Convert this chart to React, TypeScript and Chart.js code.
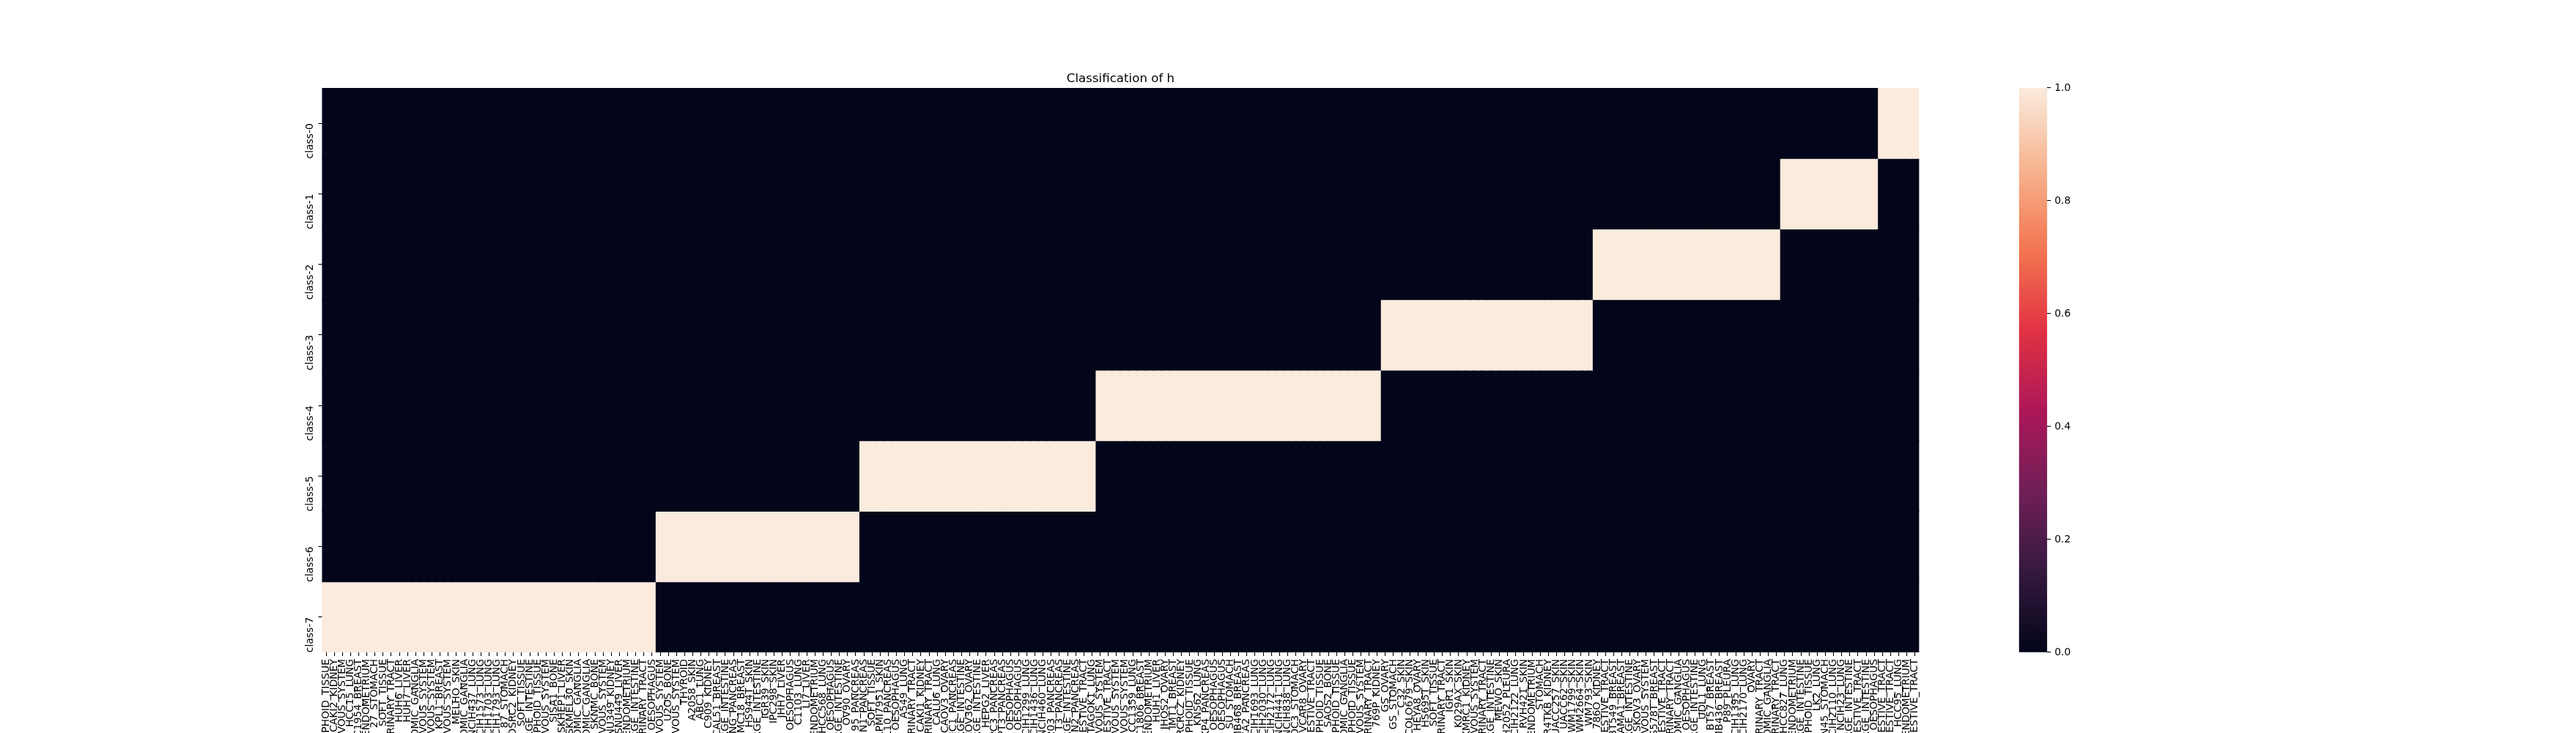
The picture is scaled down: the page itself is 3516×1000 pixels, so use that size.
import React, { useEffect, useRef } from 'react';
import { Chart, registerables } from 'chart.js';

Chart.register(...registerables);

const chartTitle = 'Classification of h';

const classes = ['class-0', 'class-1', 'class-2', 'class-3', 'class-4', 'class-5', 'class-6', 'class-7'];

const xLabels = [
  'HAEMATOPOIETIC_AND_LYMPHOID_TISSUE', 'CAKI2_KIDNEY', 'CENTRAL_NERVOUS_SYSTEM', 'HCC15_LUNG', 'HCC1954_BREAST', 'ENDOMETRIUM', '27_STOMACH', 'SOFT_TISSUE', 'URINARY_TRACT', 'HUH6_LIVER',
  'HUH7_LIVER', 'AUTONOMIC_GANGLIA', 'CENTRAL_NERVOUS_SYSTEM', 'CENTRAL_NERVOUS_SYSTEM', 'KPL1_BREAST', 'CENTRAL_NERVOUS_SYSTEM', 'MELHO_SKIN', 'AUTONOMIC_GANGLIA', 'NCIH437_LUNG', 'NCIH1573_LUNG',
  'NCIH1703_LUNG', 'NCIH1793_LUNG', '87_STOMACH', 'OSRC2_KIDNEY', 'SOFT_TISSUE', 'LARGE_INTESTINE', 'HAEMATOPOIETIC_AND_LYMPHOID_TISSUE', 'CENTRAL_NERVOUS_SYSTEM', 'SJSA1_BONE', 'SKHEP1_LIVER',
  'SKMEL30_SKIN', 'AUTONOMIC_GANGLIA', 'AUTONOMIC_GANGLIA', 'SKNMC_BONE', 'CENTRAL_NERVOUS_SYSTEM', 'SNU349_KIDNEY', 'SNU449_LIVER', 'ENDOMETRIUM', 'LARGE_INTESTINE', 'URINARY_TRACT',
  'OESOPHAGUS', 'CENTRAL_NERVOUS_SYSTEM', 'U2OS_BONE', 'CENTRAL_NERVOUS_SYSTEM', 'THYROID', 'A2058_SKIN', 'ABC1_LUNG', 'C909_KIDNEY', 'CAL51_BREAST', 'LARGE_INTESTINE',
  'DANG_PANCREAS', 'HMC18_BREAST', 'HS944T_SKIN', 'LARGE_INTESTINE', 'IGR39_SKIN', 'IPC298_SKIN', 'JHH7_LIVER', 'OESOPHAGUS', 'C1103_LUNG', 'LI7_LIVER',
  'ENDOMETRIUM', 'HCC568_LUNG', 'OESOPHAGUS', 'LARGE_INTESTINE', 'OV90_OVARY', '95_PANCREAS', 'PSN1_PANCREAS', 'SOFT_TISSUE', 'RPMI7951_SKIN', 'L10_PANCREAS',
  'OESOPHAGUS', 'A549_LUNG', 'URINARY_TRACT', 'CAKI1_KIDNEY', 'URINARY_TRACT', 'CALU6_LUNG', 'CAOV3_OVARY', 'PANC1_PANCREAS', 'LARGE_INTESTINE', 'COV362_OVARY',
  'LARGE_INTESTINE', 'HEPG2_LIVER', 'BXPC3_PANCREAS', 'HUPT3_PANCREAS', 'OESOPHAGUS', 'OESOPHAGUS',
  'NCIH1299_LUNG', 'NCIH1436_LUNG', 'NCIH460_LUNG', 'PANC0203_PANCREAS', 'T3_PANCREAS', 'LARGE_INTESTINE', 'N2_PANCREAS', 'UPPER_AERODIGESTIVE_TRACT', 'TAGOK1_LUNG', 'CENTRAL_NERVOUS_SYSTEM',
  'UPPER_AERODIGESTIVE_TRACT', 'CENTRAL_NERVOUS_SYSTEM', 'CENTRAL_NERVOUS_SYSTEM', 'HCC1359_LUNG', 'HCC1806_BREAST', 'ENDOMETRIUM', 'HUH1_LIVER', 'JHOS2_OVARY', 'IMT1_BREAST', 'VMRCRCZ_KIDNEY',
  'HAEMATOPOIETIC_AND_LYMPHOID_TISSUE', 'KNS62_LUNG', 'KP4_PANCREAS', 'OESOPHAGUS', 'OESOPHAGUS', 'SU_STOMACH', 'MDAMB468_BREAST', 'MIAPACA2_PANCREAS', 'NCIH1693_LUNG', 'NCIH2030_LUNG',
  'NCIH2172_LUNG', 'NCIH441_LUNG', 'NCIH838_LUNG', 'OC3_STOMACH', 'OVCAR8_OVARY', 'UPPER_AERODIGESTIVE_TRACT', 'HAEMATOPOIETIC_AND_LYMPHOID_TISSUE', 'SAOS2_BONE', 'HAEMATOPOIETIC_AND_LYMPHOID_TISSUE', 'AUTONOMIC_GANGLIA',
  'HAEMATOPOIETIC_AND_LYMPHOID_TISSUE', 'CENTRAL_NERVOUS_SYSTEM', 'URINARY_TRACT', '769P_KIDNEY',
  'GS_OVARY', 'GS_STOMACH', 'C32_SKIN', 'COLO679_SKIN', 'HEYA8_OVARY', 'HS695T_SKIN', 'SOFT_TISSUE', 'URINARY_TRACT', 'IGR1_SKIN', 'K029AX_SKIN',
  'KMRC1_KIDNEY', 'CENTRAL_NERVOUS_SYSTEM', 'URINARY_TRACT', 'LARGE_INTESTINE', 'MEWO_SKIN', 'NCIH2052_PLEURA', 'NCIH2122_LUNG', 'RVH421_SKIN', 'ENDOMETRIUM', 'STOMACH',
  'TUHR4TKB_KIDNEY', 'UACC257_SKIN', 'UACC62_SKIN', 'WM1799_SKIN', 'WM2664_SKIN', 'WM793_SKIN', '786O_KIDNEY', 'UPPER_AERODIGESTIVE_TRACT', 'BT549_BREAST', 'CAMA1_BREAST',
  'LARGE_INTESTINE', 'SKOV3_OVARY', 'CENTRAL_NERVOUS_SYSTEM', 'HS578T_BREAST', 'UPPER_AERODIGESTIVE_TRACT', 'URINARY_TRACT', 'AUTONOMIC_GANGLIA', 'OESOPHAGUS', 'LARGE_INTESTINE', 'UDL1_LUNG',
  'BT57_BREAST', 'MDAMB436_BREAST', 'P89_PLEURA', 'NCIH1395_LUNG', 'NCIH2170_LUNG', 'OVARY',
  'URINARY_TRACT', 'AUTONOMIC_GANGLIA', 'URINARY_TRACT', 'HCC827_LUNG', 'ENDOMETRIUM', 'LARGE_INTESTINE', 'HAEMATOPOIETIC_AND_LYMPHOID_TISSUE', 'LK2_LUNG', 'MKN45_STOMACH', 'NCIH2110_LUNG',
  'NCIH23_LUNG', 'LARGE_INTESTINE', 'UPPER_AERODIGESTIVE_TRACT', 'LARGE_INTESTINE', 'OESOPHAGUS', 'UPPER_AERODIGESTIVE_TRACT', 'UPPER_AERODIGESTIVE_TRACT', 'HCC95_LUNG', 'ENDOMETRIUM', 'UPPER_AERODIGESTIVE_TRACT',
];

// class assigned to each column (cell value 1 in that class row, 0 elsewhere)
const columnClass = [
  7, 7, 7, 7, 7, 7, 7, 7, 7, 7,
  7, 7, 7, 7, 7, 7, 7, 7, 7, 7,
  7, 7, 7, 7, 7, 7, 7, 7, 7, 7,
  7, 7, 7, 7, 7, 7, 7, 7, 7, 7,
  7, 6, 6, 6, 6, 6, 6, 6, 6, 6,
  6, 6, 6, 6, 6, 6, 6, 6, 6, 6,
  6, 6, 6, 6, 6, 6, 5, 5, 5, 5,
  5, 5, 5, 5, 5, 5, 5, 5, 5, 5,
  5, 5, 5, 5, 5, 5, 5, 5, 5, 5,
  5, 5, 5, 5, 5, 4, 4, 4, 4, 4,
  4, 4, 4, 4, 4, 4, 4, 4, 4, 4,
  4, 4, 4, 4, 4, 4, 4, 4, 4, 4,
  4, 4, 4, 4, 4, 4, 4, 4, 4, 4,
  3, 3, 3, 3, 3, 3, 3, 3, 3, 3,
  3, 3, 3, 3, 3, 3, 3, 3, 3, 3,
  3, 3, 3, 3, 3, 3, 2, 2, 2, 2,
  2, 2, 2, 2, 2, 2, 2, 2, 2, 2,
  2, 2, 2, 2, 2, 2, 2, 2, 2, 1,
  1, 1, 1, 1, 1, 1, 1, 1, 1, 1,
  1, 0, 0, 0, 0, 0,
];

const colorbarTicks = [0.0, 0.2, 0.4, 0.6, 0.8, 1.0];

// seaborn "rocket" colormap stops
const rocketStops: [number, string][] = [
  [0, '#03051a'],
  [1 / 7, '#35193e'],
  [2 / 7, '#701f57'],
  [3 / 7, '#ad1759'],
  [4 / 7, '#e13342'],
  [5 / 7, '#f37651'],
  [6 / 7, '#f6b48f'],
  [1, '#faebdd'],
];

function hexRgb(h: string): number[] {
  return [parseInt(h.slice(1, 3), 16), parseInt(h.slice(3, 5), 16), parseInt(h.slice(5, 7), 16)];
}

function rocket(v: number): string {
  const t = Math.max(0, Math.min(1, v));
  for (let i = 0; i < rocketStops.length - 1; i++) {
    const [p0, c0] = rocketStops[i];
    const [p1, c1] = rocketStops[i + 1];
    if (t <= p1) {
      const f = (t - p0) / (p1 - p0);
      const a = hexRgb(c0);
      const b = hexRgb(c1);
      const c = a.map((x, k) => Math.round(x + (b[k] - x) * f));
      return `rgb(${c[0]},${c[1]},${c[2]})`;
    }
  }
  return rocketStops[rocketStops.length - 1][1];
}

const FONT = "'DejaVu Sans', sans-serif";
const W = 3516;
const H = 1000;
const AX_LEFT = 439.5;
const AX_RIGHT = 2619.4;
const AX_TOP = 120;
const AX_BOTTOM = 890;
const CB_LEFT = 2755.7;
const CB_RIGHT = 2794.2;
const CB_CANVAS_X = 2700;
const CB_CANVAS_W = 220;

const titlePlugin = {
  id: 'axTitle',
  afterDraw(chart: any) {
    const { ctx, chartArea } = chart;
    ctx.save();
    ctx.font = `16.67px ${FONT}`;
    ctx.fillStyle = '#000';
    ctx.textAlign = 'center';
    ctx.textBaseline = 'alphabetic';
    ctx.fillText(chartTitle, (chartArea.left + chartArea.right) / 2, chartArea.top - 8.3);
    ctx.restore();
  },
};

export default function App() {
  const heatRef = useRef<HTMLCanvasElement>(null);
  const cbarRef = useRef<HTMLCanvasElement>(null);

  useEffect(() => {
    const cellValues = classes.map((_, r) => columnClass.map((c) => (c === r ? 1 : 0)));
    const yAxisW = 60;

    const heat = new Chart(heatRef.current as HTMLCanvasElement, {
      type: 'bar',
      data: {
        labels: xLabels,
        datasets: classes.map((name, r) => ({
          label: name,
          data: xLabels.map(() => [r, r + 1]) as any,
          backgroundColor: cellValues[r].map((v) => rocket(v)),
          borderWidth: 0,
          inflateAmount: 0.6,
          barPercentage: 1,
          categoryPercentage: 1,
          grouped: false,
        })),
      },
      options: {
        animation: false,
        responsive: false,
        maintainAspectRatio: false,
        devicePixelRatio: 1,
        layout: {
          padding: { left: AX_LEFT - yAxisW, right: W - AX_RIGHT, top: AX_TOP, bottom: 0 },
        },
        plugins: {
          legend: { display: false },
          tooltip: { enabled: false },
          title: { display: false },
        },
        scales: {
          x: {
            type: 'category',
            offset: true,
            border: { display: false },
            grid: { offset: false, drawOnChartArea: false, drawTicks: true, tickLength: 5, color: '#000', lineWidth: 1.1 },
            ticks: {
              autoSkip: false,
              minRotation: 90,
              maxRotation: 90,
              color: '#000',
              padding: 4,
              font: { family: FONT, size: 13.9 },
            },
            afterFit: (s: any) => {
              s.height = H - AX_BOTTOM;
              s.paddingLeft = 0;
              s.paddingRight = 0;
            },
          },
          y: {
            type: 'linear',
            min: 0,
            max: classes.length,
            reverse: true,
            border: { display: false },
            grid: { drawOnChartArea: false, drawTicks: true, tickLength: 5, color: '#000', lineWidth: 1.1 },
            afterBuildTicks: (s: any) => {
              s.ticks = classes.map((_, i) => ({ value: i + 0.5 }));
            },
            ticks: {
              minRotation: 90,
              maxRotation: 90,
              color: '#000',
              padding: 11,
              font: { family: FONT, size: 13.9 },
              callback: (_v: any, i: number) => classes[i],
            },
            afterFit: (s: any) => {
              s.width = yAxisW;
              s.paddingTop = 0;
              s.paddingBottom = 0;
            },
          },
        },
      },
      plugins: [titlePlugin],
    });

    const cbAxisW = 60;
    const cbar = new Chart(cbarRef.current as HTMLCanvasElement, {
      type: 'bar',
      data: {
        labels: [''],
        datasets: [
          {
            data: [[colorbarTicks[0], colorbarTicks[colorbarTicks.length - 1]]] as any,
            backgroundColor: (ctx: any) => {
              const area = ctx.chart.chartArea;
              if (!area) return rocket(0);
              const g = ctx.chart.ctx.createLinearGradient(0, area.bottom, 0, area.top);
              rocketStops.forEach(([p, c]) => g.addColorStop(p, c));
              return g;
            },
            borderWidth: 0,
            barPercentage: 1,
            categoryPercentage: 1,
          },
        ],
      },
      options: {
        animation: false,
        responsive: false,
        maintainAspectRatio: false,
        devicePixelRatio: 1,
        layout: {
          padding: {
            left: CB_LEFT - CB_CANVAS_X,
            right: CB_CANVAS_W - (CB_RIGHT - CB_CANVAS_X) - cbAxisW,
            top: AX_TOP,
            bottom: H - AX_BOTTOM,
          },
        },
        plugins: { legend: { display: false }, tooltip: { enabled: false } },
        scales: {
          x: { display: false },
          y: {
            position: 'right',
            min: 0,
            max: 1,
            border: { display: false },
            grid: { drawOnChartArea: false, drawTicks: true, tickLength: 5, color: '#000', lineWidth: 1.1 },
            afterBuildTicks: (s: any) => {
              s.ticks = colorbarTicks.map((v) => ({ value: v }));
            },
            ticks: {
              color: '#000',
              padding: 5,
              font: { family: FONT, size: 13.9 },
              callback: (v: any) => Number(v).toFixed(1),
            },
            afterFit: (s: any) => {
              s.width = cbAxisW;
              s.paddingTop = 0;
              s.paddingBottom = 0;
            },
          },
        },
      },
    });

    return () => {
      heat.destroy();
      cbar.destroy();
    };
  }, []);

  return (
    <div style={{ position: 'absolute', left: 0, top: 0, width: W, height: H, background: '#fff', overflow: 'hidden' }}>
      <canvas ref={heatRef} width={W} height={H} style={{ position: 'absolute', left: 0, top: 0, width: W, height: H }} />
      <canvas
        ref={cbarRef}
        width={CB_CANVAS_W}
        height={H}
        style={{ position: 'absolute', left: CB_CANVAS_X, top: 0, width: CB_CANVAS_W, height: H }}
      />
    </div>
  );
}
